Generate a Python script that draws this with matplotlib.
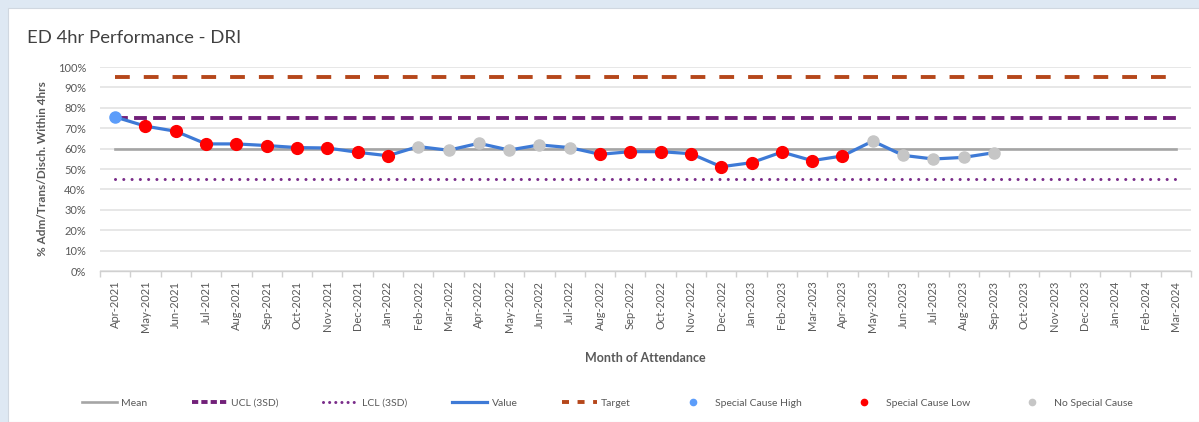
import matplotlib
matplotlib.use("Agg")
import matplotlib.pyplot as plt
from matplotlib.lines import Line2D
from matplotlib.patches import Rectangle
from matplotlib.ticker import PercentFormatter, FixedLocator, NullFormatter

plt.rcParams["font.family"] = ["Lato", "DejaVu Sans"]

# --- data ------------------------------------------------------------------
months = [
    "Apr-2021", "May-2021", "Jun-2021", "Jul-2021", "Aug-2021", "Sep-2021",
    "Oct-2021", "Nov-2021", "Dec-2021", "Jan-2022", "Feb-2022", "Mar-2022",
    "Apr-2022", "May-2022", "Jun-2022", "Jul-2022", "Aug-2022", "Sep-2022",
    "Oct-2022", "Nov-2022", "Dec-2022", "Jan-2023", "Feb-2023", "Mar-2023",
    "Apr-2023", "May-2023", "Jun-2023", "Jul-2023", "Aug-2023", "Sep-2023",
    "Oct-2023", "Nov-2023", "Dec-2023", "Jan-2024", "Feb-2024", "Mar-2024",
]
values = [
    0.755, 0.71, 0.685, 0.623, 0.623, 0.615, 0.605, 0.603, 0.582, 0.565,
    0.61, 0.592, 0.626, 0.593, 0.618, 0.605, 0.572, 0.585, 0.585, 0.575,
    0.511, 0.531, 0.583, 0.541, 0.564, 0.637, 0.567, 0.549, 0.557, 0.580,
]
# SPC signal per plotted month
signal = (["high"] + ["low"] * 9 + ["none"] * 6 + ["low"] * 9 + ["none"] * 5)

MEAN = 0.60
UCL = 0.752
LCL = 0.449
TARGET = 0.95

# --- styling ----------------------------------------------------------------
TXT = "#595959"
C_MEAN = "#A5A5A5"
C_UCL = "#722079"
C_LCL = "#7A2D8A"
C_VALUE = "#3E7AD6"
C_TARGET = "#B5471B"
C_HIGH = "#5C9DFA"
C_LOW = "#FF0000"
C_NONE = "#C6C6C6"

W, H = 1199, 422
fig = plt.figure(figsize=(W / 100, H / 100), dpi=100)
fig.patch.set_facecolor("#DEE8F3")
panel = Rectangle((8 / W, 0), 1, 1 - 8 / H, transform=fig.transFigure,
                  facecolor="white", edgecolor="#D0D7E0", lw=0.8, zorder=-5)
fig.add_artist(panel)

ax = fig.add_axes([100 / W, 1 - 271 / H, (1191 - 100) / W, (271 - 67) / H])
ax.set_facecolor("none")
ax.set_zorder(2)

n = len(months)
x_all = list(range(n))
x_val = list(range(len(values)))

ax.plot(x_all, [MEAN] * n, color=C_MEAN, lw=1.9, zorder=2)
ax.plot(x_all, [UCL] * n, color=C_UCL, lw=2.8, dashes=(3.3, 1.6), zorder=2)
ax.plot(x_all, [LCL] * n, color=C_LCL, lw=2.2, dashes=(0.01, 2.7),
        dash_capstyle="round", zorder=2)
ax.plot(x_all, [TARGET] * n, color=C_TARGET, lw=2.8, dashes=(3.8, 3.6), zorder=2)
ax.plot(x_val, values, color=C_VALUE, lw=2.3, zorder=3)

for key, col, ms in (("high", C_HIGH, 8.0), ("low", C_LOW, 8.5), ("none", C_NONE, 8.0)):
    xs = [i for i, s in zip(x_val, signal) if s == key]
    ys = [v for v, s in zip(values, signal) if s == key]
    ax.plot(xs, ys, ls="none", marker="o", ms=ms, color=col, mec=col, zorder=4)

ax.set_xlim(-0.5, n - 0.5)
ax.set_ylim(0, 1)
ax.yaxis.set_major_locator(FixedLocator([i / 10 for i in range(11)]))
ax.yaxis.set_major_formatter(PercentFormatter(1.0, decimals=0))
ax.grid(axis="y", color="#E3E3E3", lw=1.2, zorder=0)
ax.set_axisbelow(True)

ax.set_xticks(x_all)
ax.set_xticklabels(months, rotation=90, fontsize=8, color=TXT)
ax.tick_params(axis="x", which="major", length=0, pad=7)
ax.xaxis.set_minor_locator(FixedLocator([i - 0.5 for i in range(n + 1)]))
ax.xaxis.set_minor_formatter(NullFormatter())
ax.tick_params(axis="x", which="minor", length=4, color="#D0D0D0", width=1)
ax.tick_params(axis="y", length=0, labelsize=8, labelcolor=TXT, pad=10)

for s in ("top", "right", "left"):
    ax.spines[s].set_visible(False)
ax.spines["bottom"].set_color("#D0D0D0")
ax.spines["bottom"].set_linewidth(1)

ax.set_ylabel("% Adm/Trans/Disch. Within 4hrs", fontsize=8.5, fontweight="bold",
              color=TXT, labelpad=7)
ax.set_xlabel("Month of Attendance", fontsize=9, fontweight="bold", color=TXT,
              labelpad=14)

fig.text(27 / W, 1 - 38 / H, "ED 4hr Performance - DRI", fontsize=13.3,
         color="#404040", va="center", ha="left")

handles = [
    Line2D([], [], color=C_MEAN, lw=1.9),
    Line2D([], [], color=C_UCL, lw=2.8, dashes=(1.6, 0.8)),
    Line2D([], [], color=C_LCL, lw=2.2, dashes=(0.01, 2.0), dash_capstyle="round"),
    Line2D([], [], color=C_VALUE, lw=2.3),
    Line2D([], [], color=C_TARGET, lw=2.8, dashes=(1.8, 2.2)),
    Line2D([], [], ls="none", marker="o", ms=4.5, color=C_HIGH),
    Line2D([], [], ls="none", marker="o", ms=4.5, color=C_LOW),
    Line2D([], [], ls="none", marker="o", ms=4.5, color=C_NONE),
]
labels = ["Mean", "UCL (3SD)", "LCL (3SD)", "Value", "Target",
          "Special Cause High", "Special Cause Low", "No Special Cause"]
fig.legend(handles, labels, loc="center", bbox_to_anchor=(607 / W, 1 - 403 / H),
           ncol=8, frameon=False, fontsize=7.5, labelcolor=TXT, handlelength=3.4,
           handletextpad=0.4, columnspacing=4.25)

fig.savefig("out.png", dpi=100)
